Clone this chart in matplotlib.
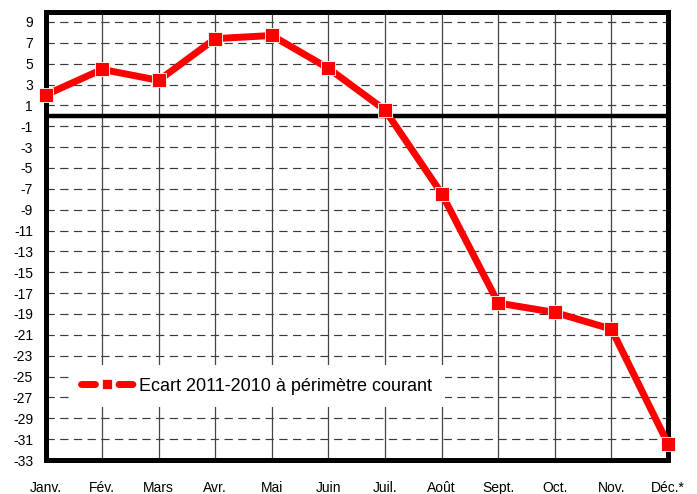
import matplotlib
matplotlib.use("Agg")
import matplotlib.pyplot as plt
from matplotlib.lines import Line2D

months = ["Janv.", "Fév.", "Mars", "Avr.", "Mai", "Juin", "Juil.", "Août",
          "Sept.", "Oct.", "Nov.", "Déc.*"]
values = [2.0, 4.45, 3.4, 7.4, 7.7, 4.55, 0.55, -7.45, -17.95, -18.85, -20.45, -31.45]
yticks = list(range(9, -34, -2))
series_label = "Ecart 2011-2010 à périmètre courant"

plt.rcParams['font.family'] = ['Liberation Sans', 'DejaVu Sans']

fig = plt.figure(figsize=(6.97, 4.94), dpi=100)
ax = fig.add_axes([0.0653, 0.0688, 0.9584 - 0.0653, 0.9767 - 0.0688])

x = list(range(len(months)))
ax.set_xlim(0, len(months) - 1)
ax.set_ylim(-33, 10)

ax.set_yticks(yticks)
ax.set_yticklabels([str(t) for t in yticks])
ax.set_xticks(x)
ax.set_xticklabels(months)
ax.tick_params(axis='both', length=0, labelsize=10)
ax.tick_params(axis='x', pad=15)
ax.tick_params(axis='y', pad=9)

# grid
for t in yticks:
    ax.axhline(t, color='#3a3a3a', lw=0.85, linestyle=(0, (7.0, 4.6)), zorder=1)
for xi in x[1:-1]:
    ax.axvline(xi, color='#444444', lw=0.9, zorder=1)
ax.axhline(0, color='black', lw=3.2, zorder=2)

for s in ax.spines.values():
    s.set_linewidth(3.6)
    s.set_color('black')

ax.plot(x, values, color='#ff0000', lw=5, marker='s', markersize=9.5,
        markerfacecolor='#ff0000', markeredgecolor='white', markeredgewidth=0.6,
        zorder=4, clip_on=False, solid_joinstyle='miter')

handle = Line2D([], [], color='#ff0000', lw=5, marker='s', markersize=7.5,
                markerfacecolor='#ff0000', markeredgecolor='white', markeredgewidth=0.5,
                linestyle=(0, (2.0, 3.4)), dash_capstyle='round')
leg = ax.legend([handle], [series_label], loc='center left',
                bbox_to_anchor=(0.037, 0.165), borderaxespad=0,
                fontsize=13, frameon=True, fancybox=False,
                handlelength=2.9, handletextpad=0.3, borderpad=0.7)
leg.get_frame().set_facecolor('white')
leg.get_frame().set_edgecolor('none')
leg.get_frame().set_alpha(1)
leg.set_zorder(5)

fig.savefig("out.png", dpi=100, facecolor='white')
